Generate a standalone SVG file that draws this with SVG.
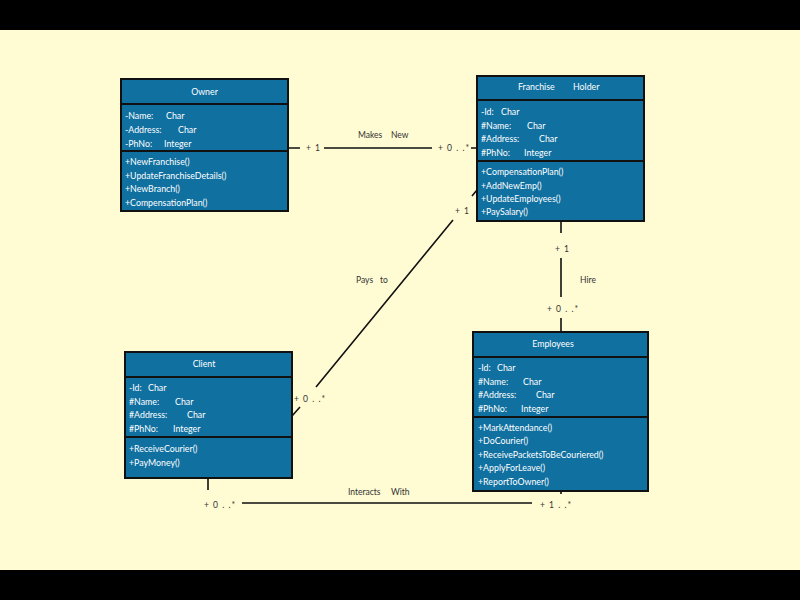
<svg xmlns="http://www.w3.org/2000/svg" width="800" height="600" viewBox="0 0 800 600">
<style>
.box{fill:#10709f;stroke:#111;stroke-width:2}
.sep{stroke:#111;stroke-width:2}
.t{font-family:Lato,"Liberation Sans",sans-serif;font-size:8.8px;fill:#fff}
.c{text-anchor:middle}
.l{font-family:Lato,"Liberation Sans",sans-serif;font-size:8.5px;fill:#333}
.m{letter-spacing:1px}
.e{stroke:#111;stroke-width:1.6;fill:none}
</style>
<rect x="0" y="0" width="800" height="600" fill="#000"/>
<rect x="0" y="30" width="800" height="540" fill="#fffbd3"/>

<g id="owner">
<rect class="box" x="121" y="79" width="167" height="132"/>
<line class="sep" x1="121" y1="104" x2="288" y2="104"/>
<line class="sep" x1="121" y1="151" x2="288" y2="151"/>
<text class="t c" x="204.5" y="95">Owner</text>
<text class="t" x="125" y="119">-Name:<tspan x="166">Char</tspan></text>
<text class="t" x="125" y="133">-Address:<tspan x="178">Char</tspan></text>
<text class="t" x="125" y="147">-PhNo:<tspan x="164">Integer</tspan></text>
<text class="t" x="125" y="165">+NewFranchise()</text>
<text class="t" x="125" y="179">+UpdateFranchiseDetails()</text>
<text class="t" x="125" y="192">+NewBranch()</text>
<text class="t" x="125" y="206">+CompensationPlan()</text>
</g>

<g id="franchise-holder">
<rect class="box" x="477" y="76" width="167" height="145"/>
<line class="sep" x1="477" y1="100" x2="644" y2="100"/>
<line class="sep" x1="477" y1="161" x2="644" y2="161"/>
<text class="t" x="518" y="90">Franchise<tspan x="573">Holder</tspan></text>
<text class="t" x="481" y="115">-Id:<tspan x="501">Char</tspan></text>
<text class="t" x="481" y="129">#Name:<tspan x="527">Char</tspan></text>
<text class="t" x="481" y="142">#Address:<tspan x="539">Char</tspan></text>
<text class="t" x="481" y="156">#PhNo:<tspan x="524">Integer</tspan></text>
<text class="t" x="481" y="175">+CompensationPlan()</text>
<text class="t" x="481" y="189">+AddNewEmp()</text>
<text class="t" x="481" y="202">+UpdateEmployees()</text>
<text class="t" x="481" y="215">+PaySalary()</text>
</g>

<g id="client">
<rect class="box" x="125" y="352" width="167" height="126"/>
<line class="sep" x1="125" y1="377" x2="292" y2="377"/>
<line class="sep" x1="125" y1="437" x2="292" y2="437"/>
<text class="t c" x="204" y="367">Client</text>
<text class="t" x="129" y="391">-Id:<tspan x="148">Char</tspan></text>
<text class="t" x="129" y="405">#Name:<tspan x="175">Char</tspan></text>
<text class="t" x="129" y="418">#Address:<tspan x="187">Char</tspan></text>
<text class="t" x="129" y="432">#PhNo:<tspan x="173">Integer</tspan></text>
<text class="t" x="129" y="452">+ReceiveCourier()</text>
<text class="t" x="129" y="466">+PayMoney()</text>
</g>

<g id="employees">
<rect class="box" x="473" y="332" width="175" height="159"/>
<line class="sep" x1="473" y1="357" x2="648" y2="357"/>
<line class="sep" x1="473" y1="417" x2="648" y2="417"/>
<text class="t c" x="553" y="347">Employees</text>
<text class="t" x="478" y="371">-Id:<tspan x="497">Char</tspan></text>
<text class="t" x="478" y="385">#Name:<tspan x="523">Char</tspan></text>
<text class="t" x="478" y="398">#Address:<tspan x="536">Char</tspan></text>
<text class="t" x="478" y="412">#PhNo:<tspan x="521">Integer</tspan></text>
<text class="t" x="478" y="431">+MarkAttendance()</text>
<text class="t" x="478" y="444">+DoCourier()</text>
<text class="t" x="478" y="458">+ReceivePacketsToBeCouriered()</text>
<text class="t" x="478" y="471">+ApplyForLeave()</text>
<text class="t" x="478" y="485">+ReportToOwner()</text>
</g>

<g id="connectors">
<!-- Makes New -->
<path class="e" d="M288 148H300M324 148H432M471 148H477"/>
<text class="l m" x="306" y="151">+ 1</text>
<text class="l m" x="438" y="151">+ 0 . .*</text>
<text class="l" x="358" y="138">Makes<tspan x="391">New</tspan></text>
<!-- Pays to -->
<path class="e" d="M292 416L300 407M316 387L453 220M472 196L477 190"/>
<text class="l m" x="455" y="214">+ 1</text>
<text class="l m" x="294" y="402">+ 0 . .*</text>
<text class="l" x="356" y="283">Pays<tspan x="380">to</tspan></text>
<!-- Hire -->
<path class="e" d="M561 221V233M561 258V297M561 318V332"/>
<text class="l m" x="555" y="252">+ 1</text>
<text class="l m" x="547" y="312">+ 0 . .*</text>
<text class="l" x="580" y="283">Hire</text>
<!-- Interacts With -->
<path class="e" d="M208 478V490M242 503H532M561 491V494"/>
<text class="l m" x="204" y="508">+ 0 . .*</text>
<text class="l m" x="540" y="508">+ 1 . .*</text>
<text class="l" x="348" y="495">Interacts<tspan x="391">With</tspan></text>
</g>
</svg>
